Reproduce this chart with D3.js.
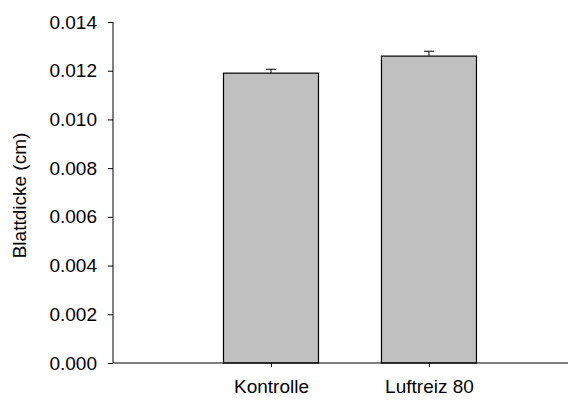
<!DOCTYPE html>
<html lang="en">

<head>
  <meta charset="UTF-8">
  <title>Blattdicke</title>
  <style>
    html,
    body {
      margin: 0;
      background: #fff;
    }

    svg {
      display: block;
    }
  </style>
</head>

<body>
  <svg width="575" height="400"></svg>
  <script src="https://cdn.jsdelivr.net/npm/d3@7"></script>
  <script>
    // data
    var categories = ['Kontrolle', 'Luftreiz 80']
    var values = [0.0119, 0.0126]
    var errors = [0.00016, 0.0002]
    var yTicks = [0, 0.002, 0.004, 0.006, 0.008, 0.010, 0.012, 0.014]

    var svg = d3.select('svg')
      .attr('font-family', 'Liberation Sans, Arial, sans-serif')

    var mLeft = 113, mRight = 568, mTop = 22, mBottom = 363
    var fs = 19

    // categories sit at positions 0 and 1, axis starts one slot to the left
    var x = d3.scaleLinear().domain([-1, 1.88]).range([mLeft, mRight])
    var y = d3.scaleLinear().domain([0, 0.014]).range([mBottom, mTop])
    var barW = 95

    var g = svg.append('g')

    g.selectAll('rect')
      .data(values)
      .join('rect')
      .attr('x', (d, i) => x(i) - barW / 2)
      .attr('y', d => y(d))
      .attr('width', barW)
      .attr('height', d => y(0) - y(d))
      .attr('fill', '#c0c0c0')
      .attr('stroke', '#000')
      .attr('stroke-width', 1.2)

    // error bars (upper only)
    var eb = g.append('g').attr('stroke', '#000').attr('stroke-width', 1)
    eb.selectAll('line.v')
      .data(values)
      .join('line')
      .attr('class', 'v')
      .attr('x1', (d, i) => x(i))
      .attr('x2', (d, i) => x(i))
      .attr('y1', d => y(d))
      .attr('y2', (d, i) => y(d + errors[i]))
    eb.selectAll('line.c')
      .data(values)
      .join('line')
      .attr('class', 'c')
      .attr('x1', (d, i) => x(i) - 5)
      .attr('x2', (d, i) => x(i) + 5)
      .attr('y1', (d, i) => y(d + errors[i]))
      .attr('y2', (d, i) => y(d + errors[i]))

    // y axis
    var yAxis = svg.append('g')
      .attr('transform', `translate(${mLeft},0)`)
      .call(d3.axisLeft(y).tickValues(yTicks).tickFormat(d3.format('.3f')).tickSize(5).tickPadding(11))
    yAxis.select('.domain').attr('d', `M0,${mTop}V${mBottom}`)
    yAxis.selectAll('text').attr('font-size', fs).attr('fill', '#000').attr('font-family', null)

    // x axis
    var xAxis = svg.append('g')
      .attr('transform', `translate(0,${mBottom})`)
      .call(d3.axisBottom(x).tickValues([0, 1]).tickFormat(i => categories[i]).tickSize(4).tickPadding(13))
    xAxis.select('.domain').attr('d', `M${mLeft},0H${mRight}`)
    xAxis.selectAll('text').attr('font-size', fs).attr('fill', '#000').attr('font-family', null)

    svg.append('text')
      .attr('transform', `translate(26,${(mTop + mBottom) / 2 + 3}) rotate(-90)`)
      .attr('text-anchor', 'middle')
      .attr('font-size', fs)
      .text('Blattdicke (cm)')
  </script>
</body>

</html>
